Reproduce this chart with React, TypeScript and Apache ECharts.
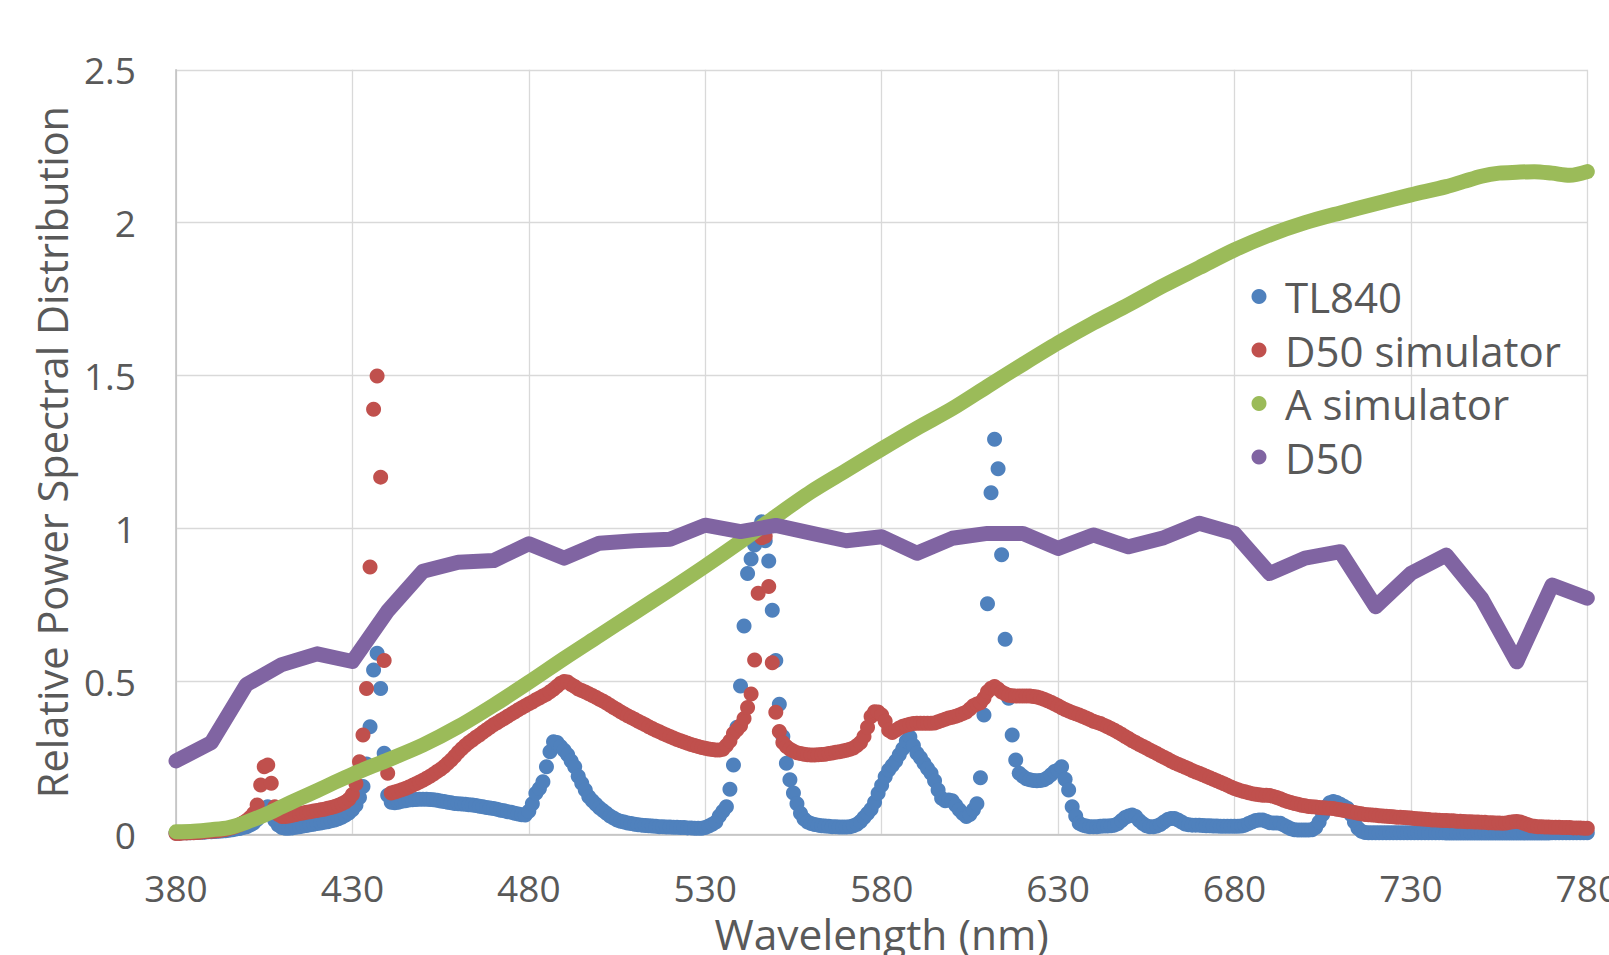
import React, { useEffect, useRef } from "react";
import * as echarts from "echarts";

// Sampling grid of the measured spectra (nm)
const START_NM = 380;
const STEP_NM = 1;

// TL840 relative SPD, one value per nm from 380 to 780
const TL840 = [
  0.004, 0.004, 0.005, 0.005, 0.005, 0.006, 0.006, 0.007, 0.007, 0.008,
  0.008, 0.009, 0.010, 0.011, 0.012, 0.013, 0.015, 0.017, 0.019, 0.022,
  0.025, 0.030, 0.037, 0.048, 0.065, 0.085, 0.090, 0.072, 0.045, 0.030,
  0.022, 0.020, 0.020, 0.021, 0.023, 0.025, 0.027, 0.029, 0.031, 0.033,
  0.035, 0.037, 0.039, 0.041, 0.044, 0.047, 0.051, 0.056, 0.062, 0.070,
  0.080, 0.095, 0.120, 0.156, 0.230, 0.352, 0.537, 0.592, 0.477, 0.265,
  0.128, 0.105, 0.103, 0.105, 0.108, 0.110, 0.112, 0.113, 0.114, 0.115,
  0.115, 0.115, 0.114, 0.113, 0.111, 0.109, 0.107, 0.105, 0.103, 0.101,
  0.100, 0.099, 0.098, 0.097, 0.096, 0.094, 0.092, 0.090, 0.088, 0.086,
  0.084, 0.082, 0.079, 0.077, 0.074, 0.072, 0.069, 0.066, 0.064, 0.063,
  0.075, 0.100, 0.134, 0.150, 0.172, 0.221, 0.270, 0.303, 0.300, 0.287,
  0.275, 0.260, 0.240, 0.221, 0.190, 0.167, 0.145, 0.123, 0.110, 0.098,
  0.087, 0.078, 0.069, 0.060, 0.053, 0.047, 0.043, 0.040, 0.037, 0.035,
  0.033, 0.031, 0.030, 0.029, 0.028, 0.027, 0.026, 0.025, 0.025, 0.024,
  0.024, 0.023, 0.023, 0.022, 0.022, 0.021, 0.021, 0.020, 0.020, 0.020,
  0.022, 0.027, 0.033, 0.040, 0.060, 0.075, 0.090, 0.147, 0.227, 0.350,
  0.485, 0.681, 0.853, 0.900, 0.946, 0.990, 1.022, 0.960, 0.894, 0.733,
  0.568, 0.425, 0.320, 0.232, 0.178, 0.135, 0.100, 0.069, 0.050, 0.040,
  0.035, 0.032, 0.030, 0.028, 0.027, 0.026, 0.025, 0.025, 0.024, 0.024,
  0.024, 0.025, 0.028, 0.033, 0.042, 0.055, 0.068, 0.082, 0.105, 0.134,
  0.160, 0.188, 0.210, 0.225, 0.240, 0.260, 0.280, 0.305, 0.318, 0.290,
  0.265, 0.250, 0.232, 0.215, 0.200, 0.175, 0.145, 0.118, 0.110, 0.112,
  0.110, 0.095, 0.080, 0.068, 0.058, 0.065, 0.080, 0.100, 0.185, 0.390,
  0.754, 1.117, 1.292, 1.195, 0.914, 0.638, 0.445, 0.325, 0.243, 0.200,
  0.190, 0.182, 0.178, 0.176, 0.175, 0.176, 0.178, 0.185, 0.195, 0.205,
  0.210, 0.221, 0.180, 0.145, 0.090, 0.060, 0.036, 0.030, 0.027, 0.025,
  0.025, 0.025, 0.026, 0.027, 0.027, 0.028, 0.030, 0.035, 0.045, 0.055,
  0.060, 0.063, 0.058, 0.045, 0.035, 0.028, 0.025, 0.025, 0.027, 0.032,
  0.040, 0.048, 0.052, 0.052, 0.047, 0.040, 0.034, 0.031, 0.030, 0.030,
  0.030, 0.029, 0.028, 0.028, 0.027, 0.027, 0.026, 0.026, 0.026, 0.026,
  0.026, 0.026, 0.027, 0.030, 0.035, 0.040, 0.045, 0.047, 0.047, 0.043,
  0.038, 0.037, 0.037, 0.036, 0.030, 0.024, 0.018, 0.015, 0.014, 0.014,
  0.014, 0.014, 0.015, 0.022, 0.040, 0.065, 0.090, 0.103, 0.107, 0.104,
  0.098, 0.092, 0.085, 0.065, 0.040, 0.020, 0.010, 0.006, 0.005, 0.005,
  0.005, 0.005, 0.005, 0.005, 0.005, 0.005, 0.005, 0.005, 0.005, 0.005,
  0.005, 0.005, 0.005, 0.005, 0.005, 0.005, 0.005, 0.005, 0.005, 0.005,
  0.004, 0.004, 0.004, 0.004, 0.004, 0.004, 0.004, 0.004, 0.004, 0.004,
  0.004, 0.004, 0.004, 0.004, 0.004, 0.004, 0.004, 0.004, 0.004, 0.004,
  0.004, 0.004, 0.004, 0.004, 0.004, 0.004, 0.004, 0.004, 0.004, 0.004,
  0.005, 0.005, 0.005, 0.005, 0.005, 0.005, 0.005, 0.005, 0.005, 0.005,
  0.005,
];

// D50 simulator relative SPD, one value per nm from 380 to 780
const D50_SIMULATOR = [
  0.003, 0.003, 0.004, 0.004, 0.005, 0.005, 0.006, 0.007, 0.008, 0.009,
  0.010, 0.011, 0.012, 0.014, 0.016, 0.019, 0.022, 0.026, 0.031, 0.038,
  0.045, 0.055, 0.068, 0.096, 0.161, 0.221, 0.227, 0.167, 0.090, 0.065,
  0.058, 0.058, 0.060, 0.062, 0.065, 0.068, 0.070, 0.072, 0.074, 0.076,
  0.078, 0.080, 0.082, 0.085, 0.088, 0.091, 0.095, 0.100, 0.106, 0.115,
  0.130, 0.165, 0.237, 0.325, 0.477, 0.874, 1.390, 1.499, 1.168, 0.568,
  0.200, 0.135, 0.138, 0.142, 0.146, 0.150, 0.155, 0.160, 0.165, 0.171,
  0.177, 0.183, 0.190, 0.197, 0.205, 0.213, 0.222, 0.232, 0.243, 0.255,
  0.268, 0.280, 0.290, 0.300, 0.308, 0.317, 0.325, 0.334, 0.342, 0.350,
  0.358, 0.365, 0.372, 0.379, 0.386, 0.393, 0.400, 0.407, 0.414, 0.420,
  0.427, 0.433, 0.440, 0.446, 0.452, 0.458, 0.466, 0.474, 0.484, 0.494,
  0.500, 0.498, 0.490, 0.483, 0.475, 0.470, 0.465, 0.460, 0.454, 0.448,
  0.442, 0.436, 0.429, 0.422, 0.415, 0.408, 0.401, 0.394, 0.388, 0.382,
  0.376, 0.370, 0.364, 0.358, 0.352, 0.346, 0.340, 0.335, 0.330, 0.325,
  0.320, 0.315, 0.310, 0.306, 0.302, 0.298, 0.294, 0.290, 0.287, 0.284,
  0.281, 0.279, 0.277, 0.276, 0.276, 0.278, 0.290, 0.305, 0.330, 0.342,
  0.355, 0.379, 0.415, 0.459, 0.570, 0.788, 0.970, 0.975, 0.810, 0.561,
  0.399, 0.336, 0.300, 0.287, 0.278, 0.272, 0.267, 0.264, 0.262, 0.260,
  0.259, 0.259, 0.260, 0.261, 0.262, 0.264, 0.266, 0.268, 0.270, 0.272,
  0.275, 0.278, 0.282, 0.290, 0.300, 0.320, 0.350, 0.385, 0.401, 0.400,
  0.390, 0.370, 0.340, 0.333, 0.340, 0.348, 0.353, 0.357, 0.360, 0.362,
  0.363, 0.363, 0.363, 0.363, 0.363, 0.364, 0.368, 0.372, 0.376, 0.380,
  0.383, 0.386, 0.390, 0.395, 0.400, 0.410, 0.420, 0.426, 0.430, 0.445,
  0.466, 0.478, 0.483, 0.475, 0.465, 0.460, 0.455, 0.453, 0.452, 0.452,
  0.452, 0.452, 0.452, 0.451, 0.449, 0.446, 0.442, 0.437, 0.432, 0.426,
  0.420, 0.414, 0.408, 0.403, 0.398, 0.394, 0.390, 0.385, 0.380, 0.375,
  0.370, 0.366, 0.362, 0.357, 0.352, 0.346, 0.340, 0.334, 0.327, 0.320,
  0.313, 0.306, 0.300, 0.294, 0.288, 0.282, 0.276, 0.270, 0.264, 0.258,
  0.252, 0.246, 0.240, 0.234, 0.229, 0.224, 0.219, 0.214, 0.209, 0.204,
  0.200, 0.195, 0.190, 0.185, 0.180, 0.175, 0.170, 0.165, 0.160, 0.155,
  0.150, 0.146, 0.142, 0.139, 0.136, 0.133, 0.131, 0.129, 0.128, 0.128,
  0.127, 0.124, 0.120, 0.116, 0.111, 0.107, 0.104, 0.101, 0.098, 0.095,
  0.093, 0.091, 0.090, 0.089, 0.088, 0.087, 0.086, 0.085, 0.084, 0.082,
  0.080, 0.078, 0.076, 0.074, 0.071, 0.069, 0.067, 0.065, 0.064, 0.063,
  0.062, 0.061, 0.060, 0.059, 0.058, 0.057, 0.056, 0.056, 0.055, 0.054,
  0.053, 0.052, 0.051, 0.050, 0.049, 0.048, 0.047, 0.047, 0.046, 0.045,
  0.045, 0.044, 0.044, 0.043, 0.043, 0.042, 0.041, 0.041, 0.040, 0.040,
  0.039, 0.039, 0.038, 0.038, 0.037, 0.037, 0.036, 0.037, 0.039, 0.041,
  0.042, 0.040, 0.036, 0.032, 0.028, 0.026, 0.025, 0.025, 0.024, 0.024,
  0.023, 0.023, 0.023, 0.022, 0.022, 0.022, 0.021, 0.021, 0.021, 0.020,
  0.020,
];

// A simulator, read at these wavelengths
const A_SIM_NM = [
  380, 385, 390, 395, 400, 405, 410, 415, 420, 425, 430, 435, 440, 450, 460,
  470, 480, 490, 500, 510, 520, 530, 540, 550, 560, 570, 580, 590, 600, 610,
  620, 630, 640, 650, 660, 670, 680, 690, 700, 710, 720, 730, 740, 745, 750,
  755, 760, 765, 770, 775, 780,
];
const A_SIM = [
  0.008, 0.010, 0.015, 0.022, 0.040, 0.063, 0.090, 0.117, 0.143, 0.170, 0.196,
  0.220, 0.243, 0.292, 0.352, 0.422, 0.497, 0.575, 0.650, 0.725, 0.800, 0.877,
  0.957, 1.040, 1.120, 1.190, 1.260, 1.328, 1.392, 1.465, 1.537, 1.607, 1.672,
  1.732, 1.795, 1.853, 1.911, 1.960, 2.000, 2.032, 2.062, 2.091, 2.118, 2.135,
  2.152, 2.162, 2.165, 2.167, 2.162, 2.155, 2.167,
];

// D50, read every 10 nm
const D50_NM = [
  380, 390, 400, 410, 420, 430, 440, 450, 460, 470, 480, 490, 500, 510, 520,
  530, 540, 550, 560, 570, 580, 590, 600, 610, 620, 630, 640, 650, 660, 670,
  680, 690, 700, 710, 720, 730, 740, 750, 760, 770, 780,
];
const D50 = [
  0.24, 0.30, 0.49, 0.555, 0.59, 0.565, 0.73, 0.86, 0.89, 0.895, 0.95, 0.903,
  0.952, 0.96, 0.965, 1.011, 0.99, 1.01, 0.985, 0.96, 0.973, 0.919, 0.968,
  0.984, 0.984, 0.935, 0.979, 0.94, 0.97, 1.017, 0.984, 0.853, 0.903, 0.924,
  0.744, 0.853, 0.913, 0.772, 0.564, 0.815, 0.772,
];

const SERIES_NAMES = ["TL840", "D50 simulator", "A simulator", "D50"];
const COLORS = ["#4F81BD", "#C0504D", "#9BBB59", "#8064A2"];

const X_TICKS = { min: 380, max: 780, step: 50 };
const Y_TICKS = { min: 0, max: 2.5, step: 0.5 };

const FONT = "'Open Sans', 'Noto Sans', sans-serif";
const TEXT_COLOR = "#595959";

export default function App() {
  const ref = useRef<HTMLDivElement>(null);

  useEffect(() => {
    if (!ref.current) return;
    const chart = echarts.init(ref.current, undefined, { renderer: "svg" });

    const pairs = (xs: number[], ys: number[]) => ys.map((v, i) => [xs[i], v]);
    const sampled = (ys: number[]) => ys.map((v, i) => [START_NM + i * STEP_NM, v]);

    const dotSeries = (name: string, color: string, data: number[][]) => ({
      name,
      type: "scatter",
      data,
      symbol: "circle",
      symbolSize: 15,
      itemStyle: { color, opacity: 1 },
      emphasis: { disabled: true },
    });
    const bandSeries = (name: string, color: string, data: number[][], smooth: number) => ({
      name,
      type: "line",
      data,
      smooth,
      showSymbol: false,
      symbol: "circle",
      color,
      itemStyle: { color },
      lineStyle: { color, width: 15, cap: "round", join: "round" },
      emphasis: { disabled: true },
    });

    chart.setOption({
      animation: false,
      backgroundColor: "#ffffff",
      textStyle: { fontFamily: FONT },
      grid: {
        left: 176,
        right: 21.7,
        top: 69.8,
        bottom: 120.7,
        containLabel: false,
        outerBoundsMode: "none",
      },
      legend: {
        orient: "vertical",
        left: 1246.5,
        top: 270.5,
        icon: "circle",
        itemWidth: 42,
        itemHeight: 15,
        itemGap: 11.5,
        data: SERIES_NAMES,
        textStyle: { fontSize: 42, color: TEXT_COLOR, fontFamily: FONT, lineHeight: 42 },
      },
      xAxis: {
        type: "value",
        min: X_TICKS.min,
        max: X_TICKS.max,
        interval: X_TICKS.step,
        name: "Wavelength (nm)",
        nameLocation: "middle",
        nameGap: 79,
        nameTextStyle: { fontSize: 42.5, color: TEXT_COLOR, fontFamily: FONT, lineHeight: 40 },
        axisLine: { show: true, onZero: false, lineStyle: { color: "#BFBFBF", width: 1.5 } },
        axisTick: { show: false },
        axisLabel: { fontSize: 37, color: TEXT_COLOR, margin: 36, fontFamily: FONT, lineHeight: 34 },
        splitLine: { show: true, lineStyle: { color: "#D9D9D9", width: 1.3 } },
      },
      yAxis: {
        type: "value",
        min: Y_TICKS.min,
        max: Y_TICKS.max,
        interval: Y_TICKS.step,
        name: "Relative Power Spectral Distribution",
        nameLocation: "middle",
        nameGap: 82,
        nameTextStyle: { fontSize: 41.5, color: TEXT_COLOR, fontFamily: FONT },
        axisLine: { show: true, lineStyle: { color: "#BFBFBF", width: 1.5 } },
        axisTick: { show: false },
        axisLabel: { fontSize: 37, color: TEXT_COLOR, margin: 40, fontFamily: FONT },
        splitLine: { show: true, lineStyle: { color: "#D9D9D9", width: 1.3 } },
      },
      series: [
        dotSeries(SERIES_NAMES[0], COLORS[0], sampled(TL840)),
        dotSeries(SERIES_NAMES[1], COLORS[1], sampled(D50_SIMULATOR)),
        bandSeries(SERIES_NAMES[2], COLORS[2], pairs(A_SIM_NM, A_SIM), 0.3),
        bandSeries(SERIES_NAMES[3], COLORS[3], pairs(D50_NM, D50), 0),
      ],
    });

    return () => chart.dispose();
  }, []);

  return (
    <div
      ref={ref}
      style={{ position: "fixed", left: 0, top: 0, width: 1609, height: 955, background: "#fff" }}
    />
  );
}
